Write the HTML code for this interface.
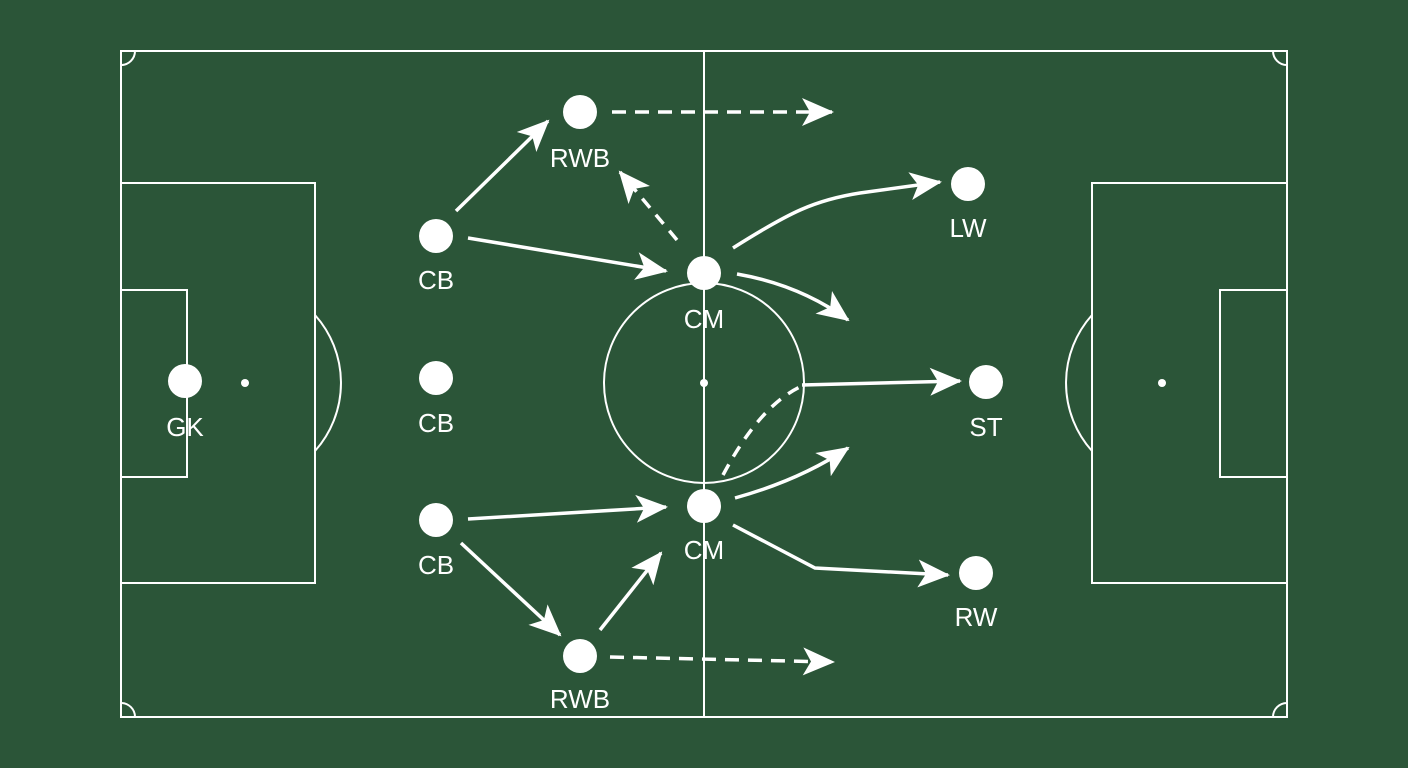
<!DOCTYPE html>
<html><head><meta charset="utf-8"><style>
html,body{margin:0;padding:0;background:#2b5538;}
svg{display:block}
text{font-family:"Liberation Sans",sans-serif;font-size:26px;fill:#fff;text-anchor:middle}
</style></head><body>
<svg width="1408" height="768" viewBox="0 0 1408 768" xmlns="http://www.w3.org/2000/svg">
<defs>
<marker id="a" markerUnits="userSpaceOnUse" markerWidth="34" markerHeight="30" refX="30" refY="15" orient="auto">
<path d="M0,1 L32,15 L0,29 L8,15 Z" fill="#fff"/>
</marker>
</defs>
<rect width="1408" height="768" fill="#2b5538"/>
<g fill="none" stroke="#fff" stroke-width="2">
<rect x="121" y="51" width="1166" height="666"/>
<line x1="704" y1="51" x2="704" y2="717"/>
<circle cx="704" cy="383" r="100"/>
<rect x="121" y="183" width="194" height="400"/>
<rect x="121" y="290" width="66" height="187"/>
<rect x="1092" y="183" width="195" height="400"/>
<rect x="1220" y="290" width="67" height="187"/>
<path d="M315,315 A102,102 0 0 1 315,451"/>
<path d="M1092,315 A102,102 0 0 0 1092,451"/>
<path d="M121,65 A14,14 0 0 0 135,51"/>
<path d="M1273,51 A14,14 0 0 0 1287,65"/>
<path d="M121,703 A14,14 0 0 1 135,717"/>
<path d="M1273,717 A14,14 0 0 1 1287,703"/>
</g>
<g fill="#fff">
<circle cx="704" cy="383" r="4"/><circle cx="245" cy="383" r="4"/><circle cx="1162" cy="383" r="4"/>
<circle cx="185" cy="381" r="17"/>
<circle cx="436" cy="236" r="17"/><circle cx="436" cy="378" r="17"/><circle cx="436" cy="520" r="17"/>
<circle cx="580" cy="112" r="17"/><circle cx="580" cy="656" r="17"/>
<circle cx="704" cy="273" r="17"/><circle cx="704" cy="506" r="17"/>
<circle cx="968" cy="184" r="17"/><circle cx="986" cy="382" r="17"/><circle cx="976" cy="573" r="17"/>
</g>
<g>
<text x="185" y="436">GK</text>
<text x="436" y="289">CB</text><text x="436" y="432">CB</text><text x="436" y="574">CB</text>
<text x="580" y="167">RWB</text><text x="580" y="708">RWB</text>
<text x="704" y="328">CM</text><text x="704" y="559">CM</text>
<text x="968" y="237">LW</text><text x="986" y="436">ST</text><text x="976" y="626">RW</text>
</g>
<g fill="none" stroke="#fff" stroke-width="3.5" marker-end="url(#a)">
<line x1="456" y1="211" x2="548" y2="121"/>
<line x1="468" y1="238" x2="666" y2="271"/>
<line x1="612" y1="112" x2="832" y2="112" stroke-dasharray="14,9"/>
<line x1="677" y1="240" x2="620" y2="172" stroke-dasharray="12,9"/>
<path d="M733,248 C790,212 815,200 860,193 L940,182"/>
<path d="M737,274 Q800,285 848,320"/>
<path d="M723,475 Q760,405 802,386" stroke-dasharray="12,9" marker-end="none"/>
<line x1="802" y1="385" x2="960" y2="381"/>
<path d="M735,498 Q800,480 848,448"/>
<path d="M733,525 L815,568 L948,575"/>
<line x1="468" y1="519" x2="666" y2="507"/>
<line x1="461" y1="543" x2="560" y2="635"/>
<line x1="600" y1="630" x2="661" y2="553"/>
<line x1="610" y1="657" x2="833" y2="662" stroke-dasharray="14,9"/>
</g>
</svg>
</body></html>
